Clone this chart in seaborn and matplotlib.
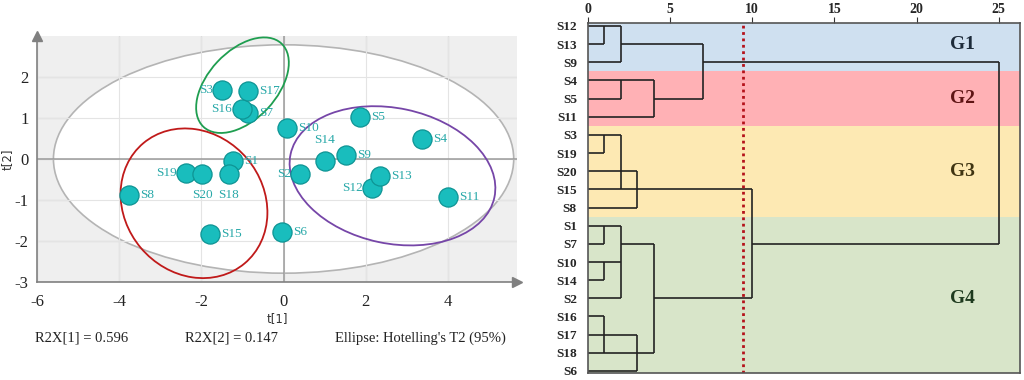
import numpy as np
import pandas as pd
import matplotlib
matplotlib.use("Agg")
import matplotlib.pyplot as plt
import seaborn as sns
from matplotlib.patches import Ellipse

# ---------------- data: PCA score plot ----------------
samples = ["S1", "S2", "S3", "S4", "S5", "S6", "S7", "S8", "S9", "S10",
           "S11", "S12", "S13", "S14", "S15", "S16", "S17", "S18", "S19", "S20"]
t1 = [-1.23, 0.41, -1.49, 3.36, 1.87, -0.04, -0.86, -3.75, 1.52, 0.08,
      4.01, 2.16, 2.35, 1.00, -1.78, -1.01, -0.86, -1.33, -2.37, -1.98]
t2 = [-0.05, -0.36, 1.68, 0.50, 1.03, -1.78, 1.11, -0.87, 0.09, 0.75,
      -0.93, -0.71, -0.42, -0.05, -1.84, 1.21, 1.66, -0.37, -0.33, -0.36]

# ellipses: name, centre x, centre y, width, height, angle
ell_names = ["hotelling", "green", "red", "purple"]
ell_cx = [0.0, -1.00, -2.18, 2.65]
ell_cy = [0.0, 1.80, -1.08, -0.41]
ell_w = [11.2, 2.78, 3.83, 5.07]
ell_h = [5.57, 1.67, 3.38, 3.30]
ell_ang = [0, 47, -50, -12]

r2x_1 = 0.596
r2x_2 = 0.147

# ---------------- data: dendrogram ----------------
leaf_order = ["S12", "S13", "S9", "S4", "S5", "S11", "S3", "S19", "S20", "S15",
              "S8", "S1", "S7", "S10", "S14", "S2", "S16", "S17", "S18", "S6"]
# merges: branches (by the row they are drawn on), height, row of new branch
merge_parts = [["S12", "S13"], ["S12", "S9"], ["S4", "S5"], ["S4", "S11"],
               ["S13", "S5"], ["S3", "S19"], ["S3", "S15"], ["S15", "S20", "S8"],
               ["S1", "S7"], ["S10", "S14"], ["S1", "S10", "S2"], ["S16", "S18"],
               ["S17", "S18", "S6"], ["S7", "S18"], ["S15", "S2"], ["S9", "S7"]]
merge_height = [1, 2, 2, 4, 7, 1, 2, 3, 1, 1, 2, 1, 3, 4, 10, 25]
merge_out = ["S12", "S13", "S4", "S5", "S9", "S3", "S15", "S15",
             "S1", "S10", "S7", "S18", "S18", "S2", "S7", None]
cut_distance = 9.45
groups = ["G1", "G2", "G3", "G4"]
group_members = [["S12", "S13", "S9"], ["S4", "S5", "S11"],
                 ["S3", "S19", "S20", "S15", "S8"],
                 ["S1", "S7", "S10", "S14", "S2", "S16", "S17", "S18", "S6"]]
dist_ticks = [0, 5, 10, 15, 20, 25]

# ---------------- styling ----------------
sns.set_style("white")
plt.rcParams["font.family"] = ["Liberation Serif", "DejaVu Serif"]
plt.rcParams["axes.unicode_minus"] = False

fig = plt.figure(figsize=(10.24, 3.8), dpi=100)

# ===== left panel =====
ax = fig.add_axes([37/1024, 1 - 282/380, 480/1024, 246/380])
ax.set_facecolor("#efefef")
ax.set_xlim(-6, 5.68)
ax.set_ylim(-3, 3.0)

for gx in range(-6, 6, 2):
    ax.axvline(gx, color="#d6d6d6", lw=0.9, zorder=0.5)
for gy in range(-3, 3):
    ax.axhline(gy, color="#d6d6d6", lw=0.9, zorder=0.5)

ell_colors = {"hotelling": "#b4b4b4", "green": "#1f9e50", "red": "#c01a1a",
              "purple": "#7646a8"}
for n, cx, cy, w, h, a in zip(ell_names, ell_cx, ell_cy, ell_w, ell_h, ell_ang):
    if n == "hotelling":
        ax.add_patch(Ellipse((cx, cy), w, h, angle=a, facecolor="white",
                             edgecolor=ell_colors[n], lw=1.2, zorder=0.8))
for gx in range(-6, 6, 2):
    ax.vlines(gx, -3, 3, color="#e4e4e4", lw=0.8, zorder=0.9)
for gy in range(-3, 3):
    ax.hlines(gy, -6, 5.68, color="#e4e4e4", lw=0.8, zorder=0.9)
ax.axvline(0, color="#9a9a9a", lw=1.1, zorder=1)
ax.axhline(0, color="#9a9a9a", lw=1.1, zorder=1)
for n, cx, cy, w, h, a in zip(ell_names, ell_cx, ell_cy, ell_w, ell_h, ell_ang):
    if n != "hotelling":
        ax.add_patch(Ellipse((cx, cy), w, h, angle=a, facecolor="none",
                             edgecolor=ell_colors[n], lw=1.3, zorder=2))

df = pd.DataFrame({"sample": samples, "t1": t1, "t2": t2})
sns.scatterplot(data=df, x="t1", y="t2", ax=ax, s=190, color="#19bdbd",
                edgecolor="#0e9494", linewidth=0.9, zorder=3, legend=False)

label_side = {"S3": "l", "S16": "l", "S19": "l", "S2": "l", "S12": "l",
              "S14": "t", "S20": "b", "S18": "b"}
for s, x, y in zip(samples, t1, t2):
    side = label_side.get(s, "r")
    if side == "r":
        off, ha, va = (8, 0), "left", "center"
    elif side == "l":
        off, ha, va = (-7, 0), "right", "center"
    elif side == "t":
        off, ha, va = (0, 11), "center", "bottom"
    else:
        off, ha, va = (0, -11), "center", "top"
    ax.annotate(s, (x, y), xytext=off, textcoords="offset points", ha=ha, va=va,
                fontsize=9.5, color="#27a8a8", zorder=4)

for side in ["top", "right"]:
    ax.spines[side].set_visible(False)
for side in ["left", "bottom"]:
    ax.spines[side].set_color("#808080")
    ax.spines[side].set_linewidth(1.2)
ax.set_xticks(range(-6, 5, 2))
ax.set_xticks(range(-5, 6, 2), minor=True)
ax.set_yticks(range(-3, 3))
ax.set_yticks(np.arange(-3, 2.8, 0.5), minor=True)
ax.tick_params(axis="both", which="major", direction="inout", length=6, color="#808080",
               labelsize=12, colors="#222222", width=1)
ax.tick_params(axis="both", which="minor", direction="inout", length=4, color="#808080", width=1)
ax.tick_params(axis="x", which="major", pad=6)
ax.tick_params(axis="y", which="major", pad=3)
ax.set_xlabel("t[1]", fontsize=8.5, color="#333333", labelpad=1, family="DejaVu Sans")
ax.set_ylabel("t[2]", fontsize=8.5, color="#333333", labelpad=1, family="DejaVu Sans")
ax.plot([0], [1.0], marker="^", color="#808080", markersize=7, transform=ax.transAxes,
        clip_on=False, zorder=5)
ax.plot([1.0], [0], marker=">", color="#808080", markersize=7, transform=ax.transAxes,
        clip_on=False, zorder=5)

ty = 1 - 338/380
fig.text(35/1024, ty, f"R2X[1] = {r2x_1:.3f}", fontsize=10.5, va="center", color="#222222")
fig.text(185/1024, ty, f"R2X[2] = {r2x_2:.3f}", fontsize=10.5, va="center", color="#222222")
fig.text(335/1024, ty, "Ellipse: Hotelling's T2 (95%)", fontsize=10.5, va="center",
         color="#222222")

# ===== right panel: dendrogram =====
ax2 = fig.add_axes([588/1024, 1 - 373.3/380, 432/1024, 350.6/380])
row = {s: i for i, s in enumerate(leaf_order)}
ax2.set_xlim(0, 26.3)
ax2.set_ylim(19.13, -0.18)

band_colors = ["#cfe0f0", "#ffb1b5", "#fde9b3", "#d8e5c9"]
text_colors = ["#1d2b3a", "#5e1414", "#3f3412", "#1e3a1e"]
edges = [-0.18]
for gm_a, gm_b in zip(group_members[:-1], group_members[1:]):
    edges.append((row[gm_a[-1]] + row[gm_b[0]]) / 2)
edges.append(19.13)
for i, g in enumerate(groups):
    ax2.axhspan(edges[i], edges[i + 1], color=band_colors[i], zorder=0, lw=0)
    gy = np.mean([row[m] for m in group_members[i]])
    ax2.text(22.8, gy, g, ha="center", va="center", fontsize=14, fontweight="bold",
             color=text_colors[i], zorder=3)

start = {s: 0.0 for s in leaf_order}
lc = "#222222"
for parts, h, out in zip(merge_parts, merge_height, merge_out):
    ys = []
    for p in parts:
        ax2.hlines(row[p], start.pop(p), h, color=lc, lw=1.4, zorder=2, alpha=0.85)
        ys.append(row[p])
    ax2.vlines(h, min(ys), max(ys), color=lc, lw=1.4, zorder=2, alpha=0.85)
    if out is not None:
        start[out] = h

ax2.axvline(cut_distance, color="#b5121b", lw=2.0, linestyle=(0, (1, 1.3)), zorder=2.5)

ax2.set_yticks(range(len(leaf_order)))
ax2.set_yticklabels(leaf_order)
ax2.set_xticks(dist_ticks)
ax2.xaxis.tick_top()
ax2.tick_params(axis="x", direction="out", length=4, labelsize=10, pad=1, color="#333333")
ax2.tick_params(axis="y", length=0, labelsize=9.5, pad=8)
for lab in ax2.get_xticklabels() + ax2.get_yticklabels():
    lab.set_fontweight("bold")
for sp in ax2.spines.values():
    sp.set_color("#555555")
    sp.set_linewidth(1.2)
ax2.grid(False)

fig.savefig("out.png", dpi=100)
